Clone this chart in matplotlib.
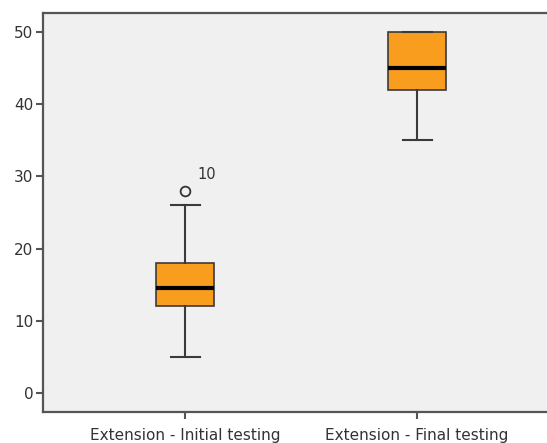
import matplotlib
matplotlib.use("Agg")
import matplotlib.pyplot as plt

# values
groups = ["Extension - Initial testing", "Extension - Final testing"]
q1 = [12, 42]
med = [14.5, 45]
q3 = [18, 50]
whislo = [5, 35]
whishi = [26, 50]
fliers = [[28], []]
flier_labels = [["10"], []]

plt.rcParams['font.family'] = ['DejaVu Sans']

fig = plt.figure(figsize=(5.47, 4.43), dpi=100)
ax = fig.add_axes([0.0786, 0.070, 0.9214, 0.9007])
ax.set_facecolor('#f0f0f0')

stats = []
for i in range(len(groups)):
    stats.append(dict(med=med[i], q1=q1[i], q3=q3[i], whislo=whislo[i],
                      whishi=whishi[i], fliers=fliers[i], label=groups[i]))

ax.bxp(stats, positions=[1, 2], widths=0.25, patch_artist=True,
       boxprops=dict(facecolor='#f99d1f', edgecolor='#3a3a3a', linewidth=1.2),
       medianprops=dict(color='black', linewidth=3),
       whiskerprops=dict(color='#3a3a3a', linewidth=1.5),
       capprops=dict(color='#3a3a3a', linewidth=1.5),
       capwidths=0.125,
       flierprops=dict(marker='o', markerfacecolor='none', markeredgecolor='#333333',
                       markersize=7, markeredgewidth=1.3))

for i in range(len(groups)):
    for v, lab in zip(fliers[i], flier_labels[i]):
        ax.annotate(lab, (i + 1, v), xytext=(9, 6), textcoords='offset points',
                    fontsize=10.5, color='#333333', ha='left', va='bottom')

ax.set_xlim(0.388, 2.56)
ax.set_ylim(-2.6, 52.6)
ax.set_yticks([0, 10, 20, 30, 40, 50])
ax.set_xticks([1, 2])
ax.set_xticklabels(groups)

for s in ['left', 'bottom', 'top']:
    ax.spines[s].set_color('#555555')
    ax.spines[s].set_linewidth(1.6)
ax.spines['right'].set_visible(False)
ax.tick_params(axis='both', colors='#555555', labelcolor='#333333', labelsize=11,
               length=5, width=1.5)
ax.tick_params(axis='x', pad=6.5)
ax.tick_params(axis='y', pad=2)

fig.savefig('out.png', dpi=100)
